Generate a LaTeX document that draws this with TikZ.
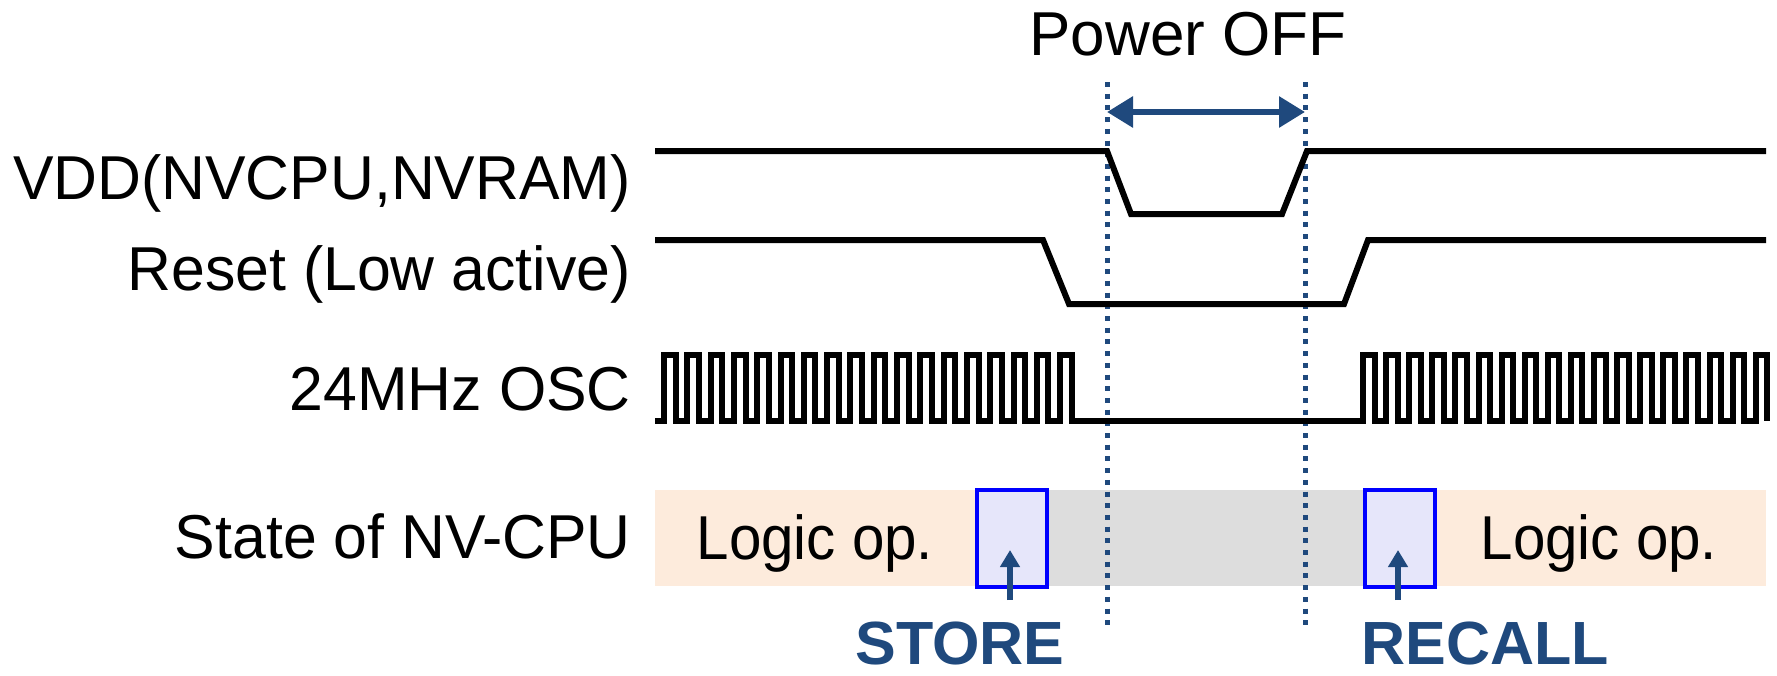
\documentclass[tikz,border=0pt]{standalone}
\usepackage{fontspec}
\setmainfont{Liberation Sans}
\newfontfamily\namefont[FakeStretch=0.98]{Liberation Sans}
\newfontfamily\logicfont[FakeStretch=0.94]{Liberation Sans}
\usetikzlibrary{calc, arrows.meta, backgrounds}

\definecolor{navy}{RGB}{31,73,125}
\definecolor{peach}{RGB}{253,235,220}
\definecolor{offgray}{RGB}{221,221,221}
\definecolor{savefill}{RGB}{230,230,250}

\tikzset{
    wave/.style={line width=6pt},
    marker/.style={navy, line width=5pt, dash pattern=on 5pt off 6.7pt},
    dimarrow/.style={navy, line width=6pt, {Triangle[length=26pt,width=30pt]}-{Triangle[length=26pt,width=30pt]}},
    uparrow/.style={navy, line width=6pt, -{Triangle[length=17pt,width=19pt]}},
    savebox/.style={draw=blue, line width=4pt, fill=savefill, minimum width=70pt, minimum height=97pt, inner sep=0pt},
    sig/.style={anchor=base east, inner sep=0pt, font=\fontsize{62}{70}\selectfont\namefont},
    txt/.style={anchor=base, inner sep=0pt},
    tag/.style={anchor=base, inner sep=0pt, navy, font=\fontsize{61}{70}\selectfont\bfseries}
}

\begin{document}
\begin{tikzpicture}[x=1pt, y=-1pt, font=\fontsize{62}{70}\selectfont]
    \useasboundingbox (0,0) rectangle (1777,675);

    % Signal names on the left
    \node[sig] (vddname) at (631,199) {VDD(NVCPU,NVRAM)};
    \node[sig] (rstname) at (631,290) {Reset (Low active)};
    \node[sig] (oscname) at (631,410) {24MHz OSC};
    \node[sig] (statename) at (631,558) {State of NV-CPU};

    % State bar: logic operation / power off
    \fill[peach] (655,490) rectangle (1766,586);
    \fill[offgray] (1000,490) rectangle (1400,586);
    \node[txt, font=\fontsize{62}{70}\selectfont\logicfont] (logicL) at (815,559) {Logic op.};
    \node[txt, font=\fontsize{62}{70}\selectfont\logicfont] (logicR) at (1599,559) {Logic op.};

    % STORE and RECALL windows
    \node[savebox] (store) at (1012,538) {};
    \node[savebox] (recall) at (1400,538) {};

    % Power-off markers
    \coordinate (offtopL) at (1107,82);
    \coordinate (offbotL) at (1107,625);
    \coordinate (offtopR) at (1305,82);
    \coordinate (offbotR) at (1305,625);
    \draw[marker] (offtopL) -- (offbotL);
    \draw[marker] (offtopR) -- (offbotR);

    % Power OFF span
    \coordinate (spanL) at (1107,112);
    \coordinate (spanR) at (1305,112);
    \draw[dimarrow] (spanL) -- (spanR);
    \node[txt] (poweroff) at (1188,55) {Power OFF};

    % VDD waveform
    \draw[wave] (655,151) -- (1107,151) -- (1131,214) -- (1282,214) -- (1307,151) -- (1766,151);

    % Reset waveform
    \draw[wave] (655,240) -- (1043,240) -- (1069,304) -- (1344,304) -- (1368,240) -- (1766,240);

    % 24MHz clock, stopped while power is off
    \draw[wave] (655,421)
        \foreach \i in {0,...,17}{ -- ({664+23.3*\i},421) -- ++(0,-66) -- ++(11.65,0) -- ++(0,66) }
        -- (1363,421)
        \foreach \i in {0,...,17}{ -- ({1363+23.1*\i},421) -- ++(0,-66) -- ++(11.55,0) -- ++(0,66) };

    % Pointers to STORE / RECALL
    \coordinate (storetail) at (1010,600);
    \coordinate (storetip) at (1010,550);
    \coordinate (recalltail) at (1398,600);
    \coordinate (recalltip) at (1398,550);
    \draw[uparrow] (storetail) -- (storetip);
    \draw[uparrow] (recalltail) -- (recalltip);
    \node[tag] (storelbl) at (960,664) {STORE};
    \node[tag] (recalllbl) at (1485,664) {RECALL};
\end{tikzpicture}
\end{document}
